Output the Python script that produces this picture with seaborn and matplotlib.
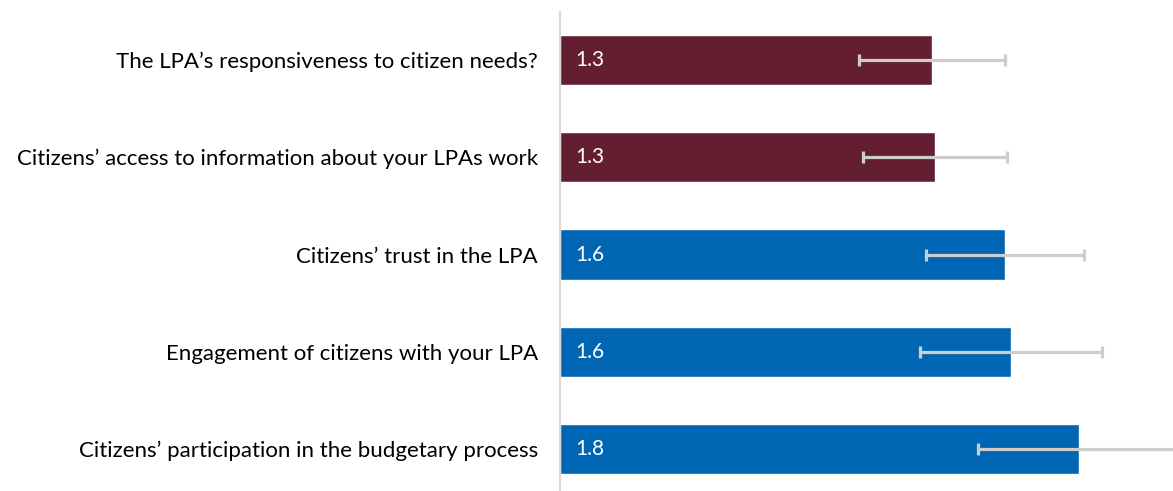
import matplotlib
matplotlib.use("Agg")
import matplotlib.pyplot as plt
import seaborn as sns
import pandas as pd

# Survey items, mean scores and error half-widths
items = [
    "The LPA\u2019s responsiveness to citizen needs?",
    "Citizens\u2019 access to information about your LPAs work",
    "Citizens\u2019 trust in the LPA",
    "Engagement of citizens with your LPA",
    "Citizens\u2019 participation in the budgetary process",
]
scores = [1.31, 1.32, 1.567, 1.588, 1.827]
errors = [0.257, 0.253, 0.278, 0.322, 0.356]
groups = ["low", "low", "high", "high", "high"]

palette = {"low": "#641e32", "high": "#0066b3"}

sns.set_theme(style="white")
plt.rcParams["font.family"] = ["Lato", "DejaVu Sans"]

df = pd.DataFrame({"item": items, "score": scores, "err": errors, "group": groups})

fig = plt.figure(figsize=(11.73, 4.91), dpi=100)
ax = fig.add_axes([560 / 1173, 0, 613 / 1173, (491 - 12) / 491])

sns.barplot(data=df, y="item", x="score", hue="group", palette=palette,
            orient="h", width=0.515, dodge=False, legend=False,
            saturation=1, ax=ax)

ax.errorbar(df["score"], range(len(items)), xerr=df["err"], fmt="none",
            ecolor="#cfcdc9", elinewidth=2.3, capsize=4.5, capthick=2.3, zorder=3)

for i, v in enumerate(scores):
    ax.text(0.055, i, f"{v:.1f}", color="white", va="center", ha="left", fontsize=15)

ax.set_xlim(0, 613 / 284)
ax.set_ylim(4 + 42 / 97, -48 / 97)
ax.set_xlabel("")
ax.set_ylabel("")
ax.set_xticks([])
ax.tick_params(axis="y", length=0, pad=16, labelsize=16, labelcolor="black")
for s in ["top", "right", "bottom"]:
    ax.spines[s].set_visible(False)
ax.spines["left"].set_color("#d9d9d9")
ax.spines["left"].set_linewidth(1.5)

fig.savefig("out.png", dpi=100)
